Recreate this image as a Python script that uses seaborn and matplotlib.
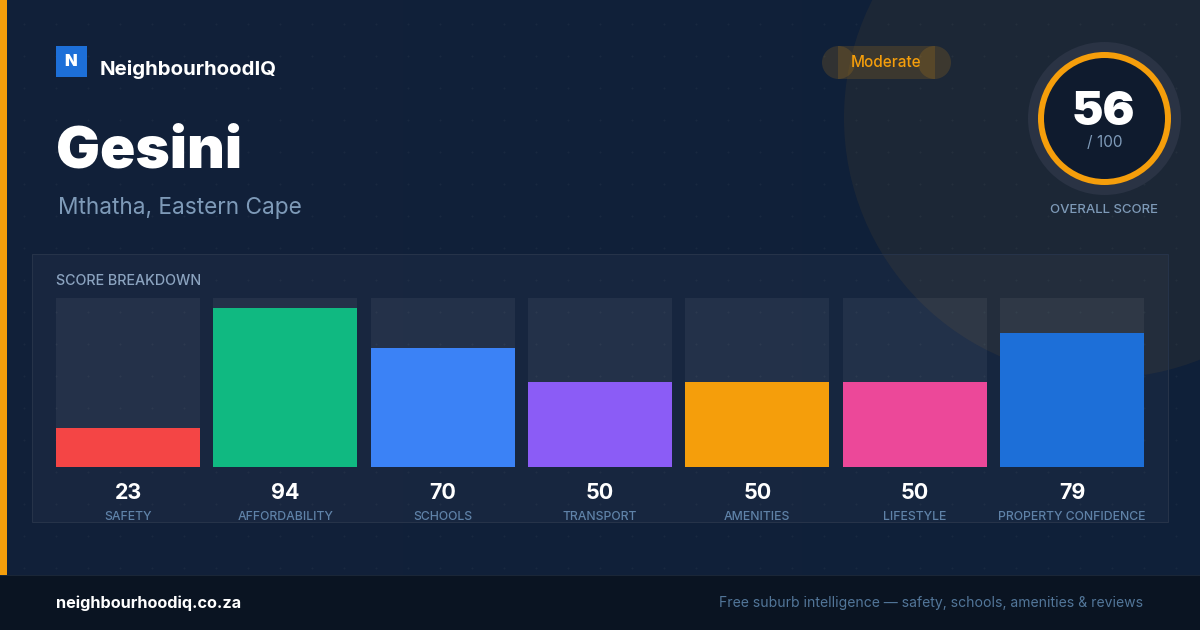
import numpy as np
import pandas as pd
import matplotlib
matplotlib.use("Agg")
import matplotlib.pyplot as plt
from matplotlib.patches import Circle, Rectangle
import seaborn as sns

# chart values
categories = ["SAFETY", "AFFORDABILITY", "SCHOOLS", "TRANSPORT", "AMENITIES", "LIFESTYLE", "PROPERTY CONFIDENCE"]
scores = [23, 94, 70, 50, 50, 50, 79]
track_max = [100, 100, 100, 100, 100, 100, 100]
bar_colors = ["#f44545", "#10b981", "#3b82f6", "#8b5cf6", "#f59e0b", "#ec4899", "#1d6fd8"]
overall = 56
overall_max = 100

sns.set_theme(style="white")
plt.rcParams["font.family"] = ["Inter", "DejaVu Sans"]

W, H = 1200, 630
PX = 0.72  # css px to points at dpi 100
AMBER = "#f59e0b"

fig = plt.figure(figsize=(12, 6.3), dpi=100, facecolor="#112139")

# background layer in pixel coordinates
bg = fig.add_axes([0, 0, 1, 1], zorder=0)
bg.axis("off")

grad = np.linspace(0, 1, 256).reshape(1, -1)
bg.imshow(grad, extent=[0, W, H, 0], aspect="auto", zorder=0,
          cmap=matplotlib.colors.LinearSegmentedColormap.from_list("bg", ["#122139", "#0f2039"]))
bg.set_xlim(0, W)
bg.set_ylim(H, 0)

# big amber glow circle
bg.add_patch(Circle((1104, 118), 260, fc=AMBER, ec="none", alpha=0.06, zorder=1))

# faint dot grid
gx, gy = np.meshgrid(np.arange(24, W, 32), np.arange(24, H, 32))
bg.scatter(gx.ravel(), gy.ravel(), s=2.2, c="white", alpha=0.04, linewidths=0, zorder=2)

# left accent and footer
bg.add_patch(Rectangle((0, 0), 7, 575, fc=AMBER, ec="none", zorder=3))
bg.add_patch(Rectangle((0, 575), W, 55, fc="#0a1422", ec="none", zorder=3))
bg.plot([0, W], [574.5, 574.5], color="#1a2637", lw=0.72, zorder=4)

# breakdown card
bg.add_patch(Rectangle((32, 254), 1136, 268, fc="white", ec="none", alpha=0.03, zorder=3))
bg.add_patch(Rectangle((32, 254), 1136, 268, fc="none", ec="#263349", lw=0.72, zorder=3))

# logo and header text
bg.add_patch(Rectangle((56, 46), 31, 31, fc="#1d6fd8", ec="none", zorder=5))
bg.text(71, 61, "N", color="white", fontsize=16.5 * PX, fontweight="black", ha="center", va="center", zorder=6)
bg.text(100, 75, "NeighbourhoodIQ", color="white", fontsize=20.4 * PX, fontweight="bold", ha="left", va="baseline", zorder=6)
bg.text(56, 168, "Gesini", color="white", fontsize=58.4 * PX, fontweight="black", ha="left", va="baseline", zorder=6)
bg.text(58, 214, "Mthatha, Eastern Cape", color="#7e9ab8", fontsize=22.65 * PX, ha="left", va="baseline", zorder=6)
bg.text(56, 285, "SCORE BREAKDOWN", color="#8ba3bf", fontsize=14.3 * PX, fontweight="medium", ha="left", va="baseline", zorder=6)

# moderate pill, overlapping translucent pieces
for piece in [Circle((838.5, 62.5), 16.5), Circle((934.5, 62.5), 16.5), Rectangle((838, 46), 97, 33)]:
    piece.set(fc=AMBER, ec="none", alpha=0.15, zorder=5)
    bg.add_patch(piece)
bg.text(886.5, 67, "Moderate", color=AMBER, fontsize=15.3 * PX, fontweight="medium", ha="center", va="baseline", zorder=6)

# score ring
cx, cy = 1104.5, 118.5
bg.add_patch(Circle((cx, cy), 76.5, fc="#2a3344", ec="none", zorder=5))
bg.add_patch(Circle((cx, cy), 66.5, fc=AMBER, ec="none", zorder=5))
bg.add_patch(Circle((cx, cy), 60.5, fc="#0f1b2e", ec="none", zorder=5))
bg.text(cx - 1, 125, str(overall), color="white", fontsize=47.5 * PX, fontweight="black", ha="center", va="baseline", zorder=6)
bg.text(cx, 147, f"/ {overall_max}", color="#7e9ab8", fontsize=15.5 * PX, ha="center", va="baseline", zorder=6)
bg.text(cx, 213, "OVERALL SCORE", color="#7e9ab8", fontsize=13.2 * PX, fontweight="medium", ha="center", va="baseline", zorder=6)

# footer text
bg.text(56, 608, "neighbourhoodiq.co.za", color="white", fontsize=16.25 * PX, fontweight="bold", ha="left", va="baseline", zorder=6)
bg.text(1143, 607, "Free suburb intelligence \u2014 safety, schools, amenities & reviews", color="#527699",
        fontsize=13.98 * PX, ha="right", va="baseline", zorder=6)

# bars
df = pd.DataFrame({"category": categories, "score": scores, "track": track_max})
BAR_W = 144 / (1088 - 144) * 6

ax = fig.add_axes([56 / W, 1 - 467 / H, 1088 / W, 169.5 / H], zorder=2)
ax.patch.set_alpha(0)
sns.barplot(data=df, x="category", y="track", color="white", alpha=0.055, width=BAR_W,
            saturation=1, linewidth=0, ax=ax)
sns.barplot(data=df, x="category", y="score", hue="category", palette=bar_colors, legend=False,
            dodge=False, width=BAR_W, saturation=1, linewidth=0, ax=ax)
ax.set_xlim(-BAR_W / 2, 6 + BAR_W / 2)
ax.set_ylim(0, 100)
ax.set_xlabel("")
ax.set_ylabel("")
ax.set_yticks([])
sns.despine(ax=ax, left=True, bottom=True)
ax.tick_params(axis="x", length=0, pad=31.6, labelsize=12.25 * PX, labelcolor="#5f82a8")
for lab in ax.get_xticklabels():
    lab.set_fontweight("medium")

for i, s in enumerate(scores):
    ax.annotate(str(s), (i, 0), xytext=(0, -26 * PX), textcoords="offset points", ha="center", va="center",
                color="white", fontsize=21.5 * PX, fontweight="bold")

fig.savefig("out.png", dpi=100, facecolor=fig.get_facecolor())
